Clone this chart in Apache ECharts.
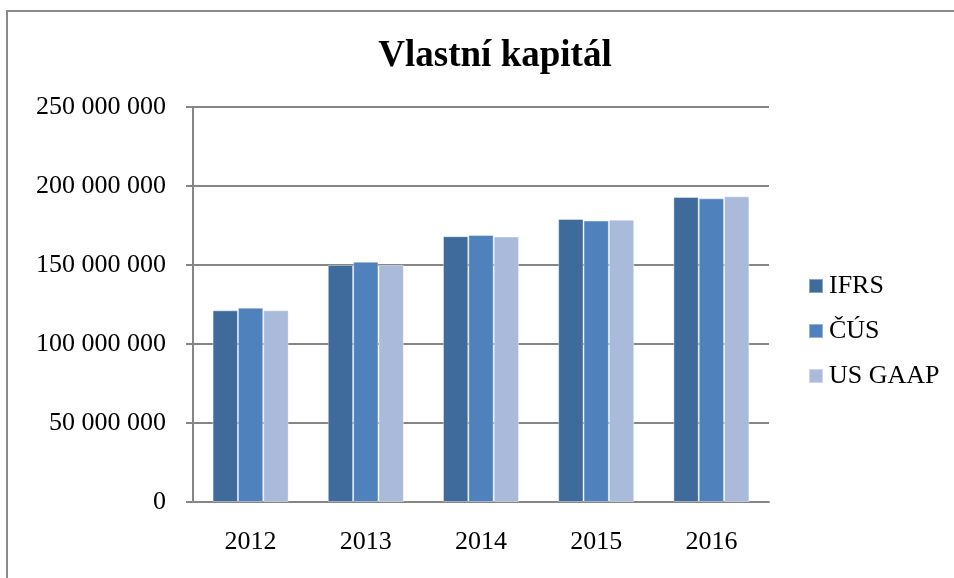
<!DOCTYPE html>
<html>
<head>
<meta charset="utf-8">
<script src="https://cdn.jsdelivr.net/npm/echarts@6/dist/echarts.min.js"></script>
<style>
  html, body { margin: 0; padding: 0; background: #fff; }
  #chart { width: 954px; height: 578px; }
</style>
</head>
<body>
<div id="chart"></div>
<script>
// Chart data
let years = ["2012", "2013", "2014", "2015", "2016"];
let seriesNames = ["IFRS", "ČÚS", "US GAAP"];
let ifrs = [121300000, 150000000, 168200000, 179100000, 193000000];
let cus = [123000000, 152100000, 169000000, 178100000, 192200000];
let usGaap = [121300000, 150000000, 168000000, 178700000, 193500000];
let yTicks = [0, 50000000, 100000000, 150000000, 200000000, 250000000];

const serif = "'Liberation Serif', 'Times New Roman', serif";
const colors = ["#3F6A9C", "#4F81BD", "#AABADA"];

// Formats 250000000 as "250 000 000"
function spaced(v) {
    return String(v).replace(/\B(?=(\d{3})+(?!\d))/g, " ");
}

const chart = echarts.init(document.getElementById("chart"));

let values = [ifrs, cus, usGaap];

let options = {
    animation: false,
    color: colors,
    title: {
        text: "Vlastní kapitál",
        left: 490,
        textAlign: "center",
        top: 33,
        textStyle: { fontFamily: serif, fontSize: 37, fontWeight: "bold", color: "#000" }
    },
    // Outer frame: only the top and left edges show in the picture
    graphic: [{
        type: "polyline",
        shape: { points: [[7, 590], [7, 11], [954, 11]] },
        style: { fill: "none", stroke: "#8a8a8a", lineWidth: 2 },
        silent: true
    }],
    legend: {
        orient: "vertical",
        left: 808,
        top: 273,
        padding: 0,
        itemWidth: 14,
        itemHeight: 14,
        itemGap: 19,
        icon: "rect",
        data: seriesNames,
        textStyle: { fontFamily: serif, fontSize: 26, color: "#000", padding: [0, 0, 0, 1] }
    },
    grid: { left: 193, right: 185, top: 107, bottom: 76 },
    xAxis: {
        type: "category",
        data: years,
        axisLine: { lineStyle: { color: "#868686", width: 2 } },
        axisTick: { length: 8, lineStyle: { color: "#868686", width: 2 } },
        axisLabel: { fontFamily: serif, fontSize: 26, color: "#000", margin: 27 }
    },
    yAxis: {
        type: "value",
        min: yTicks[0],
        max: yTicks[yTicks.length - 1],
        interval: yTicks[1] - yTicks[0],
        axisLine: { show: true, lineStyle: { color: "#868686", width: 2 } },
        axisTick: { show: true, length: 7, lineStyle: { color: "#868686", width: 2 } },
        splitLine: { lineStyle: { color: "#868686", width: 2 } },
        axisLabel: { fontFamily: serif, fontSize: 26, color: "#000", margin: 27, formatter: spaced }
    },
    series: seriesNames.map((name, i) => ({
        name: name,
        type: "bar",
        data: values[i],
        barGap: "0%",
        barCategoryGap: "34%",
        itemStyle: { borderColor: "rgba(255,255,255,0.4)", borderWidth: 1 }
    }))
};

chart.setOption(options);
</script>
</body>
</html>
